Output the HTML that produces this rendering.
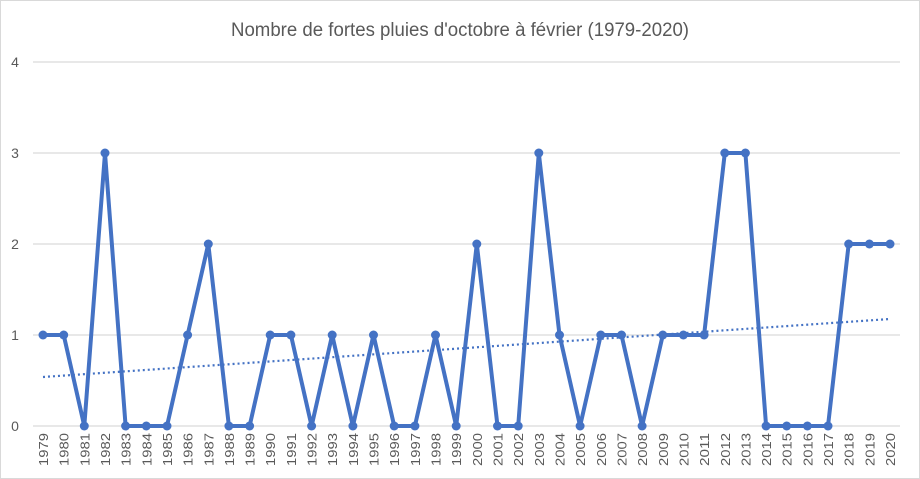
<!DOCTYPE html>
<html><head><meta charset="utf-8"><style>
html,body{margin:0;padding:0;background:#fff;}
svg{display:block;font-family:"Liberation Sans",sans-serif;}
</style></head><body>
<svg width="920" height="479" viewBox="0 0 920 479">
<rect x="0.5" y="0.5" width="919" height="478" fill="#fff" stroke="#d9d9d9"/>
<text x="460" y="36" text-anchor="middle" font-size="19" fill="#595959" textLength="458" lengthAdjust="spacingAndGlyphs">Nombre de fortes pluies d'octobre à février (1979-2020)</text>
<g stroke="#d9d9d9" stroke-width="1.3">
<line x1="33" y1="62" x2="900" y2="62"/>
<line x1="33" y1="153" x2="900" y2="153"/>
<line x1="33" y1="244" x2="900" y2="244"/>
<line x1="33" y1="335" x2="900" y2="335"/>
<line x1="33" y1="426" x2="900" y2="426"/>
</g>
<g font-size="14" fill="#595959" text-anchor="middle">
<text x="15" y="67">4</text><text x="15" y="158">3</text><text x="15" y="249">2</text><text x="15" y="340">1</text><text x="15" y="431">0</text>
</g>
<line x1="43" y1="377" x2="890" y2="319" stroke="#4472c4" stroke-width="2.2" stroke-dasharray="2,3"/>
<polyline fill="none" stroke="#4472c4" stroke-width="4" stroke-linejoin="round" points="43,335 63.7,335 84.3,426 105,153 125.6,426 146.3,426 167,426 187.6,335 208.3,244 228.9,426 249.6,426 270.2,335 290.9,335 311.6,426 332.2,335 352.9,426 373.5,335 394.2,426 414.9,426 435.5,335 456.2,426 476.8,244 497.5,426 518.2,426 538.8,153 559.5,335 580.1,426 600.8,335 621.5,335 642.1,426 662.8,335 683.4,335 704.1,335 724.8,153 745.4,153 766.1,426 786.7,426 807.4,426 828,426 848.7,244 869.4,244 890,244"/>
<g fill="#4472c4">
<circle cx="43" cy="335" r="4.5"/><circle cx="63.7" cy="335" r="4.5"/><circle cx="84.3" cy="426" r="4.5"/><circle cx="105" cy="153" r="4.5"/><circle cx="125.6" cy="426" r="4.5"/><circle cx="146.3" cy="426" r="4.5"/><circle cx="167" cy="426" r="4.5"/><circle cx="187.6" cy="335" r="4.5"/><circle cx="208.3" cy="244" r="4.5"/><circle cx="228.9" cy="426" r="4.5"/><circle cx="249.6" cy="426" r="4.5"/><circle cx="270.2" cy="335" r="4.5"/><circle cx="290.9" cy="335" r="4.5"/><circle cx="311.6" cy="426" r="4.5"/><circle cx="332.2" cy="335" r="4.5"/><circle cx="352.9" cy="426" r="4.5"/><circle cx="373.5" cy="335" r="4.5"/><circle cx="394.2" cy="426" r="4.5"/><circle cx="414.9" cy="426" r="4.5"/><circle cx="435.5" cy="335" r="4.5"/><circle cx="456.2" cy="426" r="4.5"/><circle cx="476.8" cy="244" r="4.5"/><circle cx="497.5" cy="426" r="4.5"/><circle cx="518.2" cy="426" r="4.5"/><circle cx="538.8" cy="153" r="4.5"/><circle cx="559.5" cy="335" r="4.5"/><circle cx="580.1" cy="426" r="4.5"/><circle cx="600.8" cy="335" r="4.5"/><circle cx="621.5" cy="335" r="4.5"/><circle cx="642.1" cy="426" r="4.5"/><circle cx="662.8" cy="335" r="4.5"/><circle cx="683.4" cy="335" r="4.5"/><circle cx="704.1" cy="335" r="4.5"/><circle cx="724.8" cy="153" r="4.5"/><circle cx="745.4" cy="153" r="4.5"/><circle cx="766.1" cy="426" r="4.5"/><circle cx="786.7" cy="426" r="4.5"/><circle cx="807.4" cy="426" r="4.5"/><circle cx="828" cy="426" r="4.5"/><circle cx="848.7" cy="244" r="4.5"/><circle cx="869.4" cy="244" r="4.5"/><circle cx="890" cy="244" r="4.5"/>
</g>
<g font-size="13" fill="#595959">
<text transform="translate(48,466) rotate(-90)" textLength="33" lengthAdjust="spacingAndGlyphs">1979</text>
<text transform="translate(68.7,466) rotate(-90)" textLength="33" lengthAdjust="spacingAndGlyphs">1980</text>
<text transform="translate(89.3,466) rotate(-90)" textLength="33" lengthAdjust="spacingAndGlyphs">1981</text>
<text transform="translate(110,466) rotate(-90)" textLength="33" lengthAdjust="spacingAndGlyphs">1982</text>
<text transform="translate(130.6,466) rotate(-90)" textLength="33" lengthAdjust="spacingAndGlyphs">1983</text>
<text transform="translate(151.3,466) rotate(-90)" textLength="33" lengthAdjust="spacingAndGlyphs">1984</text>
<text transform="translate(172,466) rotate(-90)" textLength="33" lengthAdjust="spacingAndGlyphs">1985</text>
<text transform="translate(192.6,466) rotate(-90)" textLength="33" lengthAdjust="spacingAndGlyphs">1986</text>
<text transform="translate(213.3,466) rotate(-90)" textLength="33" lengthAdjust="spacingAndGlyphs">1987</text>
<text transform="translate(233.9,466) rotate(-90)" textLength="33" lengthAdjust="spacingAndGlyphs">1988</text>
<text transform="translate(254.6,466) rotate(-90)" textLength="33" lengthAdjust="spacingAndGlyphs">1989</text>
<text transform="translate(275.2,466) rotate(-90)" textLength="33" lengthAdjust="spacingAndGlyphs">1990</text>
<text transform="translate(295.9,466) rotate(-90)" textLength="33" lengthAdjust="spacingAndGlyphs">1991</text>
<text transform="translate(316.6,466) rotate(-90)" textLength="33" lengthAdjust="spacingAndGlyphs">1992</text>
<text transform="translate(337.2,466) rotate(-90)" textLength="33" lengthAdjust="spacingAndGlyphs">1993</text>
<text transform="translate(357.9,466) rotate(-90)" textLength="33" lengthAdjust="spacingAndGlyphs">1994</text>
<text transform="translate(378.5,466) rotate(-90)" textLength="33" lengthAdjust="spacingAndGlyphs">1995</text>
<text transform="translate(399.2,466) rotate(-90)" textLength="33" lengthAdjust="spacingAndGlyphs">1996</text>
<text transform="translate(419.9,466) rotate(-90)" textLength="33" lengthAdjust="spacingAndGlyphs">1997</text>
<text transform="translate(440.5,466) rotate(-90)" textLength="33" lengthAdjust="spacingAndGlyphs">1998</text>
<text transform="translate(461.2,466) rotate(-90)" textLength="33" lengthAdjust="spacingAndGlyphs">1999</text>
<text transform="translate(481.8,466) rotate(-90)" textLength="33" lengthAdjust="spacingAndGlyphs">2000</text>
<text transform="translate(502.5,466) rotate(-90)" textLength="33" lengthAdjust="spacingAndGlyphs">2001</text>
<text transform="translate(523.2,466) rotate(-90)" textLength="33" lengthAdjust="spacingAndGlyphs">2002</text>
<text transform="translate(543.8,466) rotate(-90)" textLength="33" lengthAdjust="spacingAndGlyphs">2003</text>
<text transform="translate(564.5,466) rotate(-90)" textLength="33" lengthAdjust="spacingAndGlyphs">2004</text>
<text transform="translate(585.1,466) rotate(-90)" textLength="33" lengthAdjust="spacingAndGlyphs">2005</text>
<text transform="translate(605.8,466) rotate(-90)" textLength="33" lengthAdjust="spacingAndGlyphs">2006</text>
<text transform="translate(626.5,466) rotate(-90)" textLength="33" lengthAdjust="spacingAndGlyphs">2007</text>
<text transform="translate(647.1,466) rotate(-90)" textLength="33" lengthAdjust="spacingAndGlyphs">2008</text>
<text transform="translate(667.8,466) rotate(-90)" textLength="33" lengthAdjust="spacingAndGlyphs">2009</text>
<text transform="translate(688.4,466) rotate(-90)" textLength="33" lengthAdjust="spacingAndGlyphs">2010</text>
<text transform="translate(709.1,466) rotate(-90)" textLength="33" lengthAdjust="spacingAndGlyphs">2011</text>
<text transform="translate(729.8,466) rotate(-90)" textLength="33" lengthAdjust="spacingAndGlyphs">2012</text>
<text transform="translate(750.4,466) rotate(-90)" textLength="33" lengthAdjust="spacingAndGlyphs">2013</text>
<text transform="translate(771.1,466) rotate(-90)" textLength="33" lengthAdjust="spacingAndGlyphs">2014</text>
<text transform="translate(791.7,466) rotate(-90)" textLength="33" lengthAdjust="spacingAndGlyphs">2015</text>
<text transform="translate(812.4,466) rotate(-90)" textLength="33" lengthAdjust="spacingAndGlyphs">2016</text>
<text transform="translate(833,466) rotate(-90)" textLength="33" lengthAdjust="spacingAndGlyphs">2017</text>
<text transform="translate(853.7,466) rotate(-90)" textLength="33" lengthAdjust="spacingAndGlyphs">2018</text>
<text transform="translate(874.4,466) rotate(-90)" textLength="33" lengthAdjust="spacingAndGlyphs">2019</text>
<text transform="translate(895,466) rotate(-90)" textLength="33" lengthAdjust="spacingAndGlyphs">2020</text>
</g>
</svg>
</body></html>
